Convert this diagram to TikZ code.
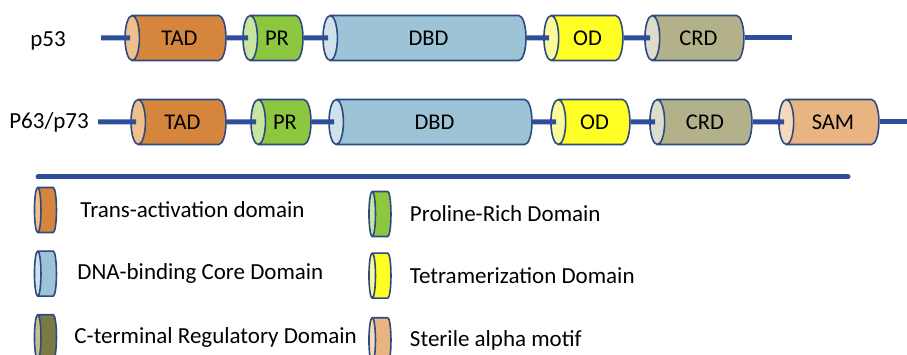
\documentclass[tikz,border=0pt]{standalone}
\usepackage{fontspec}
\setmainfont{Carlito}
\usetikzlibrary{positioning,shapes.geometric}

\definecolor{rim}{HTML}{2F4A80}
\definecolor{chain}{HTML}{2E4D9A}
\definecolor{tadbody}{HTML}{D6853D}
\definecolor{tadend}{HTML}{F0C08C}
\definecolor{prbody}{HTML}{8DC63F}
\definecolor{prend}{HTML}{C8E6A0}
\definecolor{dbdbody}{HTML}{9DC3D6}
\definecolor{dbdend}{HTML}{CFE2EC}
\definecolor{odbody}{HTML}{FFFF26}
\definecolor{odend}{HTML}{FAFA9A}
\definecolor{crdbody}{HTML}{B3B18A}
\definecolor{crdend}{HTML}{DEDCCB}
\definecolor{crddark}{HTML}{7B7A45}
\definecolor{crddarkend}{HTML}{C4BF8E}
\definecolor{sambody}{HTML}{E8B481}
\definecolor{samend}{HTML}{F5D9BC}

\begin{document}
\begin{tikzpicture}
[x=1pt,y=1pt,
 dom/.style={cylinder,shape border rotate=180,draw=rim,line width=1.6pt,
   cylinder uses custom fill,aspect=1,minimum width=45pt,inner sep=0pt,
   font=\fontsize{22.5}{22.5}\selectfont},
 tad/.style={dom,cylinder body fill=tadbody,cylinder end fill=tadend},
 pr/.style={dom,cylinder body fill=prbody,cylinder end fill=prend},
 dbd/.style={dom,cylinder body fill=dbdbody,cylinder end fill=dbdend},
 od/.style={dom,cylinder body fill=odbody,cylinder end fill=odend},
 crd/.style={dom,cylinder body fill=crdbody,cylinder end fill=crdend},
 sam/.style={dom,cylinder body fill=sambody,cylinder end fill=samend},
 key/.style={minimum height=22pt,aspect=0.45},
 chainline/.style={draw=chain,line width=5pt},
 protname/.style={inner sep=0pt,font=\fontsize{23}{23}\selectfont},
 keytext/.style={inner sep=0pt,font=\fontsize{23}{23}\selectfont}]
\useasboundingbox (0,0) rectangle (907,-355);

% p53
\coordinate (s1) at (101,-38);
\coordinate (e1) at (792,-38);
\node[protname,left=35pt of s1,yshift=-3pt](p53){p53};
\node[tad,minimum height=101pt] (tad1) at (179.5,-38) {TAD};
\node[pr,minimum height=60pt] (pr1) at (277,-38) {PR};
\node[dbd,minimum height=203pt] (dbd1) at (428.5,-38) {DBD};
\node[od,minimum height=79pt] (od1) at (587.5,-38) {OD};
\node[crd,minimum height=99pt] (crd1) at (698.5,-38) {CRD};
\path[chainline] (s1) -- ([xshift=6pt]tad1.west);
\path[chainline] (tad1.east) -- ([xshift=6pt]pr1.west);
\path[chainline] (pr1.east) -- ([xshift=6pt]dbd1.west);
\path[chainline] (dbd1.east) -- ([xshift=6pt]od1.west);
\path[chainline] (od1.east) -- ([xshift=6pt]crd1.west);
\path[chainline] (crd1.east) -- (e1);

% p63 / p73
\coordinate (s2) at (98,-122);
\coordinate (e2) at (907,-122);
\node[protname,left=9pt of s2](p63){P63/p73};
\node[tad,minimum height=95pt] (tad2) at (182.5,-122) {TAD};
\node[pr,minimum height=60pt] (pr2) at (285,-122) {PR};
\node[dbd,minimum height=203pt] (dbd2) at (434.5,-122) {DBD};
\node[od,minimum height=79pt] (od2) at (594.5,-122) {OD};
\node[crd,minimum height=102pt] (crd2) at (705,-122) {CRD};
\node[sam,minimum height=100pt] (sam2) at (833,-122) {SAM};
\path[chainline] (s2) -- ([xshift=6pt]tad2.west);
\path[chainline] (tad2.east) -- ([xshift=6pt]pr2.west);
\path[chainline] (pr2.east) -- ([xshift=6pt]dbd2.west);
\path[chainline] (dbd2.east) -- ([xshift=6pt]od2.west);
\path[chainline] (od2.east) -- ([xshift=6pt]crd2.west);
\path[chainline] (crd2.east) -- ([xshift=6pt]sam2.west);
\path[chainline] (sam2.east) -- (e2);

% legend
\coordinate (sepL) at (38,-177);
\coordinate (sepR) at (848,-177);
\path[chainline,line cap=round] (sepL) -- (sepR);
\node[tad,key] (ktad) at (47.5,-210) {\vphantom{D}};
\node[dbd,key,below=17pt of ktad] (kdbd) {\vphantom{D}};
\node[dom,key,cylinder body fill=crddark,cylinder end fill=crddarkend,below=17pt of kdbd] (kcrd) {\vphantom{D}};
\node[pr,key] (kpr) at (382,-214) {\vphantom{D}};
\node[od,key,below=15pt of kpr] (kod) {\vphantom{D}};
\node[sam,key,below=18pt of kod] (ksam) {\vphantom{D}};
\node[keytext,right=23pt of ktad] {Trans-activation domain};
\node[keytext,right=20pt of kdbd] {DNA-binding Core Domain};
\node[keytext,right=17pt of kcrd] {C-terminal Regulatory Domain};
\node[keytext,right=18pt of kpr] {Proline-Rich Domain};
\node[keytext,right=18pt of kod] {Tetramerization Domain};
\node[keytext,right=18pt of ksam] {Sterile alpha motif};
\end{tikzpicture}
\end{document}
